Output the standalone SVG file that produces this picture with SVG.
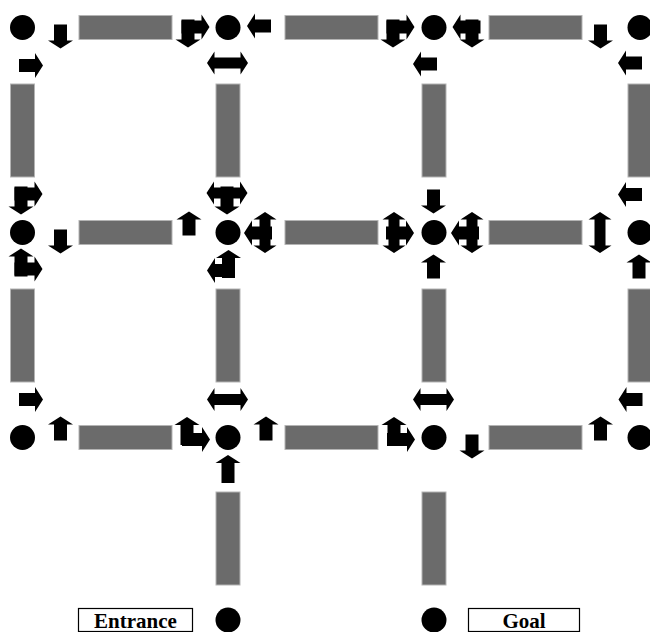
<svg xmlns="http://www.w3.org/2000/svg" xmlns:xlink="http://www.w3.org/1999/xlink" width="650" height="632" viewBox="0 0 650 632">
<style>
.bar{fill:#6b6b6b;stroke:#b4b4b4;stroke-width:1}
.dot{fill:#000}
.ar{fill:#000}
.lbl{fill:#fff;stroke:#000;stroke-width:1.2}
.txt{font-family:"Liberation Serif","Times New Roman",serif;font-weight:bold;font-size:21px;fill:#000;text-anchor:middle}
</style>
<defs>
<path id="a" d="M-12,-6.5H4V-12.5L12,0L4,12.5V6.5H-12Z"/>
<path id="b" d="M-14,-6.5H6V-12.5L14,0L6,12.5V6.5H-14Z"/>
<path id="d" d="M-20.5,0L-13,-11.5V-5.5H13V-11.5L20.5,0L13,11.5V5.5H-13V11.5Z"/>
</defs>
<rect width="650" height="632" fill="#fff"/>
<g id="connectors">
<rect class="bar" x="79" y="15.5" width="93" height="24"/>
<rect class="bar" x="285" y="15.5" width="93" height="24"/>
<rect class="bar" x="489" y="15.5" width="93" height="24"/>
<rect class="bar" x="79" y="220.5" width="93" height="24"/>
<rect class="bar" x="285" y="220.5" width="93" height="24"/>
<rect class="bar" x="489" y="220.5" width="93" height="24"/>
<rect class="bar" x="79" y="425.5" width="93" height="24"/>
<rect class="bar" x="285" y="425.5" width="93" height="24"/>
<rect class="bar" x="489" y="425.5" width="93" height="24"/>
<rect class="bar" x="10.5" y="84" width="24" height="93"/>
<rect class="bar" x="216" y="84" width="24" height="93"/>
<rect class="bar" x="422" y="84" width="24" height="93"/>
<rect class="bar" x="628" y="84" width="24" height="93"/>
<rect class="bar" x="10.5" y="289" width="24" height="93"/>
<rect class="bar" x="216" y="289" width="24" height="93"/>
<rect class="bar" x="422" y="289" width="24" height="93"/>
<rect class="bar" x="628" y="289" width="24" height="93"/>
<rect class="bar" x="216" y="492" width="24" height="93"/>
<rect class="bar" x="422" y="492" width="24" height="93"/>
</g>
<g id="arrows" class="ar">
<use href="#a" transform="translate(60.5,36.5) rotate(90)"/>
<use href="#a" transform="translate(31,65.5)"/>
<use href="#b" transform="translate(188,33.5) rotate(90)"/>
<use href="#b" transform="translate(195.5,27)"/>
<use href="#a" transform="translate(259,26) rotate(180)"/>
<use href="#d" transform="translate(227.5,63)"/>
<use href="#b" transform="translate(393,33.5) rotate(90)"/>
<use href="#b" transform="translate(400.5,27)"/>
<use href="#a" transform="translate(425,64) rotate(180)"/>
<use href="#b" transform="translate(466.5,27) rotate(180)"/>
<use href="#b" transform="translate(472,33.5) rotate(90)"/>
<use href="#a" transform="translate(600.5,36.5) rotate(90)"/>
<use href="#a" transform="translate(630,63) rotate(180)"/>
<use href="#b" transform="translate(21,200.5) rotate(90)"/>
<use href="#b" transform="translate(28.5,194)"/>
<use href="#d" transform="translate(227,193)"/>
<use href="#b" transform="translate(227,200.5) rotate(90)"/>
<use href="#a" transform="translate(189,223.5) rotate(-90)"/>
<use href="#a" transform="translate(60.5,241.5) rotate(90)"/>
<use href="#d" transform="translate(265,232.5) rotate(90)"/>
<use href="#b" transform="translate(258,233) rotate(180)"/>
<use href="#d" transform="translate(394,232.5) rotate(90)"/>
<use href="#b" transform="translate(400,233)"/>
<use href="#a" transform="translate(433.5,201.5) rotate(90)"/>
<use href="#a" transform="translate(433.5,266.5) rotate(-90)"/>
<use href="#d" transform="translate(472,232.5) rotate(90)"/>
<use href="#b" transform="translate(465,233) rotate(180)"/>
<use href="#d" transform="translate(600,232.5) rotate(90)"/>
<use href="#a" transform="translate(630,194.5) rotate(180)"/>
<use href="#a" transform="translate(639,266.5) rotate(-90)"/>
<use href="#b" transform="translate(21,262.5) rotate(-90)"/>
<use href="#b" transform="translate(28.5,269)"/>
<use href="#b" transform="translate(228.5,264) rotate(-90)"/>
<use href="#b" transform="translate(221,270.5) rotate(180)"/>
<use href="#a" transform="translate(31,399.5)"/>
<use href="#a" transform="translate(60.5,428.5) rotate(-90)"/>
<use href="#b" transform="translate(187,431) rotate(-90)"/>
<use href="#b" transform="translate(196,439.5)"/>
<use href="#d" transform="translate(227.5,399.5)"/>
<use href="#b" transform="translate(228,469) rotate(-90)"/>
<use href="#a" transform="translate(266,428.5) rotate(-90)"/>
<use href="#b" transform="translate(394,431) rotate(-90)"/>
<use href="#b" transform="translate(401,439.5)"/>
<use href="#d" transform="translate(433.5,399.5)"/>
<use href="#a" transform="translate(472,446.5) rotate(90)"/>
<use href="#a" transform="translate(600.5,428.5) rotate(-90)"/>
<use href="#a" transform="translate(630.5,399.5) rotate(180)"/>
</g>
<g id="n11"><circle class="dot" cx="22.5" cy="27.5" r="12.5"/></g>
<g id="n12"><circle class="dot" cx="228" cy="27.5" r="12.5"/></g>
<g id="n13"><circle class="dot" cx="434" cy="27.5" r="12.5"/></g>
<g id="n14"><circle class="dot" cx="640" cy="27.5" r="12.5"/></g>
<g id="n21"><circle class="dot" cx="22.5" cy="232.5" r="12.5"/></g>
<g id="n22"><circle class="dot" cx="228" cy="232.5" r="12.5"/></g>
<g id="n23"><circle class="dot" cx="434" cy="232.5" r="12.5"/></g>
<g id="n24"><circle class="dot" cx="640" cy="232.5" r="12.5"/></g>
<g id="n31"><circle class="dot" cx="22.5" cy="437.5" r="12.5"/></g>
<g id="n32"><circle class="dot" cx="228" cy="437.5" r="12.5"/></g>
<g id="n33"><circle class="dot" cx="434" cy="437.5" r="12.5"/></g>
<g id="n34"><circle class="dot" cx="640" cy="437.5" r="12.5"/></g>
<g id="entrance-node"><circle class="dot" cx="228" cy="620" r="12.5"/></g>
<g id="goal-node"><circle class="dot" cx="434" cy="620" r="12.5"/></g>
<g id="entrance-label"><rect class="lbl" x="78.5" y="608.5" width="114" height="23"/><text class="txt" x="135.5" y="627.5">Entrance</text></g>
<g id="goal-label"><rect class="lbl" x="468.5" y="608.5" width="111" height="23"/><text class="txt" x="524" y="627.5">Goal</text></g>
</svg>
